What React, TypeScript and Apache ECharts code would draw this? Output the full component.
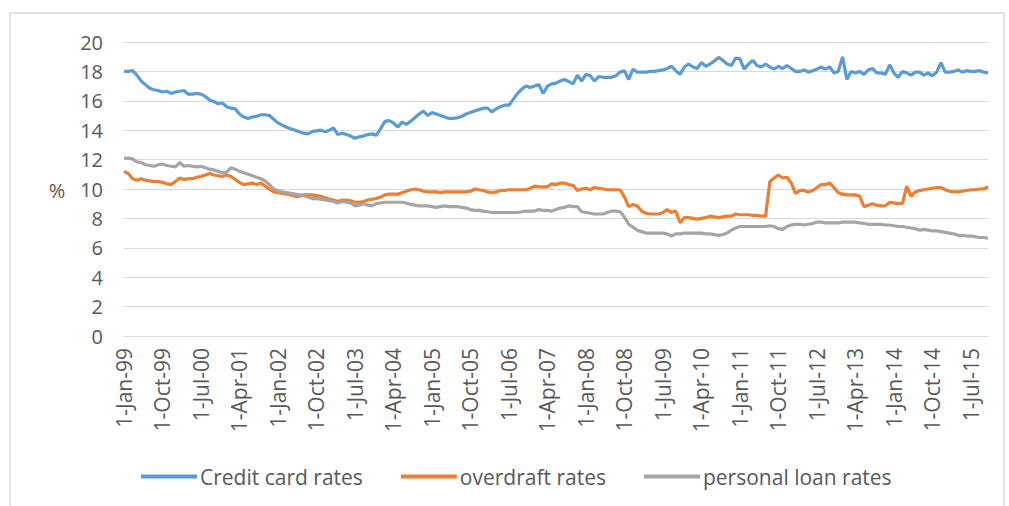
import React, { useEffect, useRef } from "react";
import * as echarts from "echarts";

const MONTHS = ["Jan","Feb","Mar","Apr","May","Jun","Jul","Aug","Sep","Oct","Nov","Dec"];
const START_YEAR = 1999;
const N_MONTHS = 203;
const categories: string[] = [];
for (let i = 0; i < N_MONTHS; i++) {
  const y = START_YEAR + Math.floor(i / 12);
  categories.push(`1-${MONTHS[i % 12]}-${String(y % 100).padStart(2, "0")}`);
}

const yTicks = [0, 2, 4, 6, 8, 10, 12, 14, 16, 18, 20];

const creditCard = [
  18.0, 18.0, 18.05, 17.75, 17.35, 17.1, 16.85, 16.75, 16.7, 16.6,
  16.65, 16.5, 16.6, 16.65, 16.7, 16.45, 16.45, 16.5, 16.45, 16.3,
  16.05, 15.95, 15.8, 15.85, 15.6, 15.5, 15.45, 15.1, 14.9, 14.8,
  14.9, 14.95, 15.05, 15.05, 15.0, 14.75, 14.5, 14.35, 14.2, 14.1,
  14.0, 13.9, 13.8, 13.75, 13.9, 13.95, 14.0, 13.9, 14.0, 14.15,
  13.7, 13.8, 13.7, 13.6, 13.45, 13.55, 13.6, 13.7, 13.75, 13.65,
  14.1, 14.6, 14.65, 14.5, 14.2, 14.55, 14.4, 14.6, 14.85, 15.1,
  15.3, 15.0, 15.2, 15.1, 15.0, 14.9, 14.8, 14.8, 14.85, 14.95,
  15.1, 15.2, 15.3, 15.4, 15.5, 15.5, 15.25, 15.45, 15.6, 15.7,
  15.7, 16.1, 16.5, 16.8, 17.0, 16.9, 17.0, 17.1, 16.5, 17.0,
  17.15, 17.2, 17.35, 17.45, 17.3, 17.15, 17.75, 17.35, 17.8, 17.7,
  17.35, 17.65, 17.6, 17.6, 17.6, 17.7, 17.95, 18.05, 17.45, 18.15,
  17.95, 17.95, 17.95, 18.0, 18.0, 18.05, 18.1, 18.2, 18.35, 18.05,
  17.8, 18.3, 18.5, 18.3, 18.2, 18.6, 18.35, 18.5, 18.7, 18.95,
  18.75, 18.5, 18.4, 18.9, 18.85, 18.15, 18.5, 18.75, 18.4, 18.3,
  18.5, 18.3, 18.15, 18.35, 18.2, 18.4, 18.2, 18.0, 18.0, 18.1,
  17.95, 18.05, 18.15, 18.3, 18.15, 18.3, 17.9, 18.0, 19.0, 17.45,
  18.0, 17.9, 18.0, 17.8, 18.1, 18.2, 17.9, 17.9, 17.8, 18.45,
  17.9, 17.6, 18.0, 17.9, 17.75, 17.95, 17.95, 17.75, 17.9, 17.7,
  17.95, 18.6, 17.95, 17.95, 18.0, 18.1, 17.95, 18.05, 18.0, 18.0,
  18.05, 17.95, 17.9,
];

const overdraft = [
  11.2, 11.05, 10.7, 10.6, 10.7, 10.6, 10.55, 10.5, 10.5, 10.45,
  10.35, 10.3, 10.5, 10.75, 10.65, 10.7, 10.7, 10.8, 10.85, 10.95,
  11.05, 10.95, 10.9, 10.85, 10.95, 10.85, 10.65, 10.45, 10.3, 10.35,
  10.4, 10.3, 10.4, 10.2, 10.0, 9.8, 9.75, 9.7, 9.65, 9.6,
  9.5, 9.5, 9.6, 9.6, 9.6, 9.55, 9.5, 9.4, 9.3, 9.25,
  9.15, 9.25, 9.25, 9.2, 9.1, 9.1, 9.15, 9.25, 9.3, 9.35,
  9.45, 9.6, 9.65, 9.65, 9.65, 9.75, 9.85, 9.95, 10.0, 9.95,
  9.85, 9.8, 9.8, 9.8, 9.75, 9.8, 9.8, 9.8, 9.8, 9.8,
  9.8, 9.85, 10.0, 9.95, 9.9, 9.8, 9.75, 9.8, 9.9, 9.9,
  9.95, 9.95, 9.95, 9.95, 9.95, 10.05, 10.2, 10.15, 10.15, 10.15,
  10.35, 10.3, 10.4, 10.4, 10.3, 10.25, 9.9, 10.0, 10.05, 9.95,
  10.1, 10.05, 10.0, 9.95, 9.95, 9.95, 9.95, 9.45, 8.8, 8.95,
  8.85, 8.5, 8.35, 8.3, 8.3, 8.3, 8.4, 8.6, 8.4, 8.5,
  7.7, 8.05, 8.05, 8.0, 7.95, 8.0, 8.05, 8.15, 8.1, 8.05,
  8.1, 8.15, 8.15, 8.3, 8.25, 8.25, 8.25, 8.2, 8.2, 8.15,
  8.15, 10.5, 10.75, 10.95, 10.75, 10.8, 10.4, 9.7, 9.9, 9.9,
  9.8, 9.9, 10.1, 10.3, 10.3, 10.4, 10.1, 9.75, 9.65, 9.6,
  9.6, 9.6, 9.5, 8.8, 8.9, 9.0, 8.9, 8.85, 8.85, 9.1,
  9.05, 9.0, 9.0, 10.2, 9.5, 9.8, 9.9, 9.95, 10.0, 10.05,
  10.1, 10.1, 9.95, 9.85, 9.8, 9.8, 9.85, 9.9, 9.95, 9.95,
  10.0, 10.0, 10.15,
];

const personalLoan = [
  12.1, 12.1, 12.05, 11.85, 11.8, 11.65, 11.6, 11.55, 11.65, 11.7,
  11.6, 11.55, 11.5, 11.8, 11.55, 11.6, 11.55, 11.5, 11.55, 11.45,
  11.35, 11.3, 11.2, 11.1, 11.15, 11.45, 11.35, 11.2, 11.1, 11.0,
  10.9, 10.8, 10.7, 10.55, 10.3, 10.0, 9.9, 9.8, 9.75, 9.7,
  9.65, 9.6, 9.55, 9.45, 9.35, 9.35, 9.3, 9.25, 9.2, 9.15,
  9.05, 9.15, 9.1, 9.05, 8.85, 8.9, 9.0, 8.9, 8.85, 9.0,
  9.05, 9.1, 9.1, 9.1, 9.1, 9.1, 9.05, 8.95, 8.9, 8.85,
  8.85, 8.85, 8.8, 8.75, 8.8, 8.85, 8.8, 8.8, 8.8, 8.75,
  8.7, 8.6, 8.55, 8.55, 8.5, 8.45, 8.4, 8.4, 8.4, 8.4,
  8.4, 8.4, 8.4, 8.45, 8.5, 8.5, 8.5, 8.6, 8.55, 8.55,
  8.5, 8.6, 8.7, 8.75, 8.85, 8.8, 8.8, 8.45, 8.4, 8.35,
  8.3, 8.3, 8.3, 8.4, 8.5, 8.5, 8.45, 8.1, 7.6, 7.4,
  7.2, 7.1, 7.0, 7.0, 7.0, 7.0, 7.0, 6.95, 6.8, 6.95,
  6.95, 7.0, 7.0, 7.0, 7.0, 7.0, 6.95, 6.95, 6.9, 6.85,
  6.9, 7.0, 7.2, 7.35, 7.45, 7.45, 7.45, 7.45, 7.45, 7.45,
  7.45, 7.5, 7.45, 7.3, 7.25, 7.45, 7.55, 7.6, 7.6, 7.55,
  7.6, 7.65, 7.75, 7.75, 7.7, 7.7, 7.7, 7.7, 7.75, 7.75,
  7.75, 7.75, 7.7, 7.65, 7.6, 7.6, 7.6, 7.6, 7.55, 7.55,
  7.5, 7.45, 7.45, 7.4, 7.35, 7.3, 7.2, 7.25, 7.2, 7.15,
  7.15, 7.1, 7.05, 7.0, 6.95, 6.85, 6.85, 6.8, 6.8, 6.75,
  6.7, 6.7, 6.65,
];

const seriesNames = ["Credit card rates", "overdraft rates", "personal loan rates"];
const seriesColors = ["#5B9BD5", "#ED7D31", "#A5A5A5"];

const FONT = "'Open Sans', 'Liberation Sans', sans-serif";
const TEXT_COLOR = "#595959";

export default function App() {
  const ref = useRef<HTMLDivElement>(null);
  useEffect(() => {
    if (!ref.current) return;
    const chart = echarts.init(ref.current, undefined, { renderer: "svg" });
    const data = [creditCard, overdraft, personalLoan];
    chart.setOption({
      animation: false,
      backgroundColor: "#ffffff",
      textStyle: { fontFamily: FONT },
      grid: { left: 124, right: 21, top: 42, bottom: 170, containLabel: false },
      graphic: [
        {
          type: "rect",
          shape: { x: 10, y: 13, width: 994, height: 500 },
          style: { fill: "none", stroke: "#d9d9d9", lineWidth: 1.5 },
          silent: true,
        },
        {
          type: "text",
          x: 57,
          y: 190,
          style: {
            text: "%",
            fontSize: 20,
            fontFamily: FONT,
            fill: TEXT_COLOR,
            align: "center",
            verticalAlign: "middle",
          },
        },
      ],
      legend: {
        left: 136,
        top: 461,
        icon: "rect",
        itemWidth: 56,
        itemHeight: 4,
        itemGap: 38,
        textStyle: { fontSize: 21, color: TEXT_COLOR, fontFamily: FONT, padding: [0, 0, 0, -2] },
        data: seriesNames,
      },
      xAxis: {
        type: "category",
        data: categories,
        boundaryGap: false,
        axisLine: { lineStyle: { color: "#d9d9d9", width: 1 } },
        axisTick: { show: false },
        axisLabel: {
          interval: 8,
          rotate: 90,
          margin: 12,
          fontSize: 21,
          color: TEXT_COLOR,
          fontFamily: FONT,
        },
        splitLine: { show: false },
      },
      yAxis: {
        type: "value",
        min: yTicks[0],
        max: yTicks[yTicks.length - 1],
        interval: 2,
        axisLine: { show: false },
        axisTick: { show: false },
        axisLabel: { fontSize: 20, color: TEXT_COLOR, margin: 21, fontFamily: FONT },
        splitLine: { lineStyle: { color: "#d9d9d9", width: 1 } },
      },
      series: seriesNames.map((name, k) => ({
        name,
        type: "line",
        data: data[k],
        symbol: "none",
        lineStyle: { color: seriesColors[k], width: 3.2 },
        itemStyle: { color: seriesColors[k] },
      })),
    });
    return () => chart.dispose();
  }, []);
  return (
    <div
      ref={ref}
      style={{ position: "fixed", left: 0, top: 0, width: 1009, height: 506 }}
    />
  );
}
